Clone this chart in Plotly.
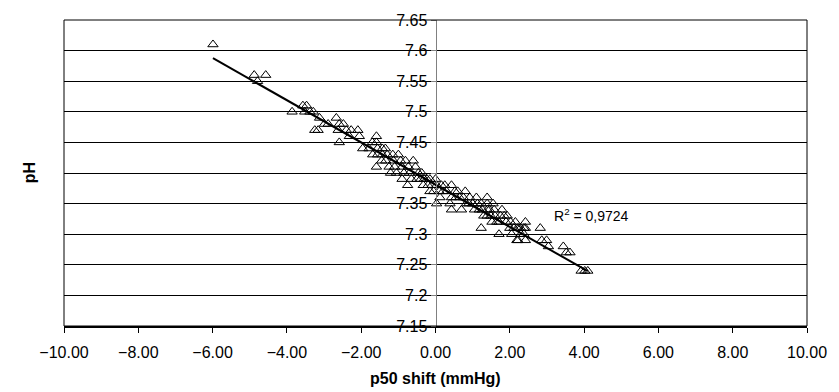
import plotly.graph_objects as go
import numpy as np

# p50 shift (mmHg) and pH values
p50_shift = [
    -5.99, -4.88, -4.57, -4.79,
    -3.86, -3.57, -3.47, -3.52, -3.38, -3.29, -3.25,
    -3.12, -3.16, -2.99, -2.89, -2.67, -2.59, -2.48, -2.62, -2.40, -2.27, -2.32,
    -2.09, -2.05, -2.59, -1.96, -1.79, -1.59, -1.59, -1.56, -1.69, -1.56, -1.43,
    -1.59, -1.43, -1.70,
    -1.34, -1.21, -1.13, -1.00, -0.94, -0.81, -0.73, -0.60, -0.54, -0.46, -0.37,
    -0.33, -0.23, -0.20, -0.10, 0.00, 0.03, 0.03, 0.16, 0.25, 0.30, 0.43, 0.43,
    0.39, 0.43,
    -1.30, -1.25, -1.10, -1.05, -0.90, -0.85, -0.70, -0.65, -0.50, -0.40, -0.30,
    -0.15, -0.05, 0.10, 0.20, 0.12, -0.15, -0.90, -0.75, -1.15, -1.45, -1.35,
    0.52, 0.60, 0.70, 0.92, 0.83, 1.00, 1.13, 1.23, 1.26, 1.39, 1.39, 1.39, 1.23,
    1.49, 1.58, 1.71, 1.71, 1.79, 1.85, 1.93, 2.02, 2.11, 2.24, 2.19, 2.38, 2.38,
    0.55, 0.65, 0.75, 0.80, 0.90, 1.05, 1.10, 1.18, 1.30, 1.45, 1.52, 1.60, 1.65,
    1.75, 1.90, 2.00, 2.05, 2.15, 2.30, 1.55, 1.40,
    2.20, 2.29, 2.42, 2.42, 2.22, 2.42, 2.82, 2.86, 2.99, 3.04, 3.44, 3.52, 3.62,
    3.92, 4.02, 4.10,
]
ph = [
    7.61, 7.56, 7.56, 7.55,
    7.50, 7.51, 7.51, 7.50, 7.50, 7.50, 7.47,
    7.49, 7.47, 7.48, 7.48, 7.49, 7.48, 7.48, 7.47, 7.47, 7.47, 7.46,
    7.47, 7.46, 7.45, 7.44, 7.44, 7.46, 7.45, 7.44, 7.43, 7.43, 7.43,
    7.41, 7.44, 7.45,
    7.42, 7.40, 7.42, 7.43, 7.42, 7.42, 7.41, 7.42, 7.41, 7.40, 7.40,
    7.38, 7.39, 7.38, 7.38, 7.39, 7.38, 7.35, 7.38, 7.38, 7.37, 7.38, 7.36,
    7.35, 7.34,
    7.43, 7.41, 7.41, 7.40, 7.41, 7.40, 7.40, 7.39, 7.39, 7.39, 7.39,
    7.39, 7.37, 7.37, 7.37, 7.36, 7.37, 7.39, 7.38, 7.43, 7.42, 7.44,
    7.37, 7.37, 7.34, 7.36, 7.35, 7.35, 7.35, 7.35, 7.34, 7.36, 7.35, 7.33, 7.31,
    7.33, 7.34, 7.32, 7.30, 7.34, 7.33, 7.33, 7.32, 7.31, 7.31, 7.29, 7.31, 7.30,
    7.36, 7.36, 7.36, 7.37, 7.35, 7.34, 7.36, 7.34, 7.33, 7.34, 7.32, 7.33, 7.32,
    7.33, 7.32, 7.31, 7.30, 7.32, 7.30, 7.35, 7.34,
    7.31, 7.31, 7.32, 7.31, 7.29, 7.29, 7.31, 7.29, 7.29, 7.28, 7.28, 7.27, 7.27,
    7.24, 7.24, 7.24,
]

# linear trend line
trend_slope = -0.0345
trend_intercept = 7.381
r2_text = "R<sup>2</sup> = 0,9724"

x_ticks = [-10, -8, -6, -4, -2, 0, 2, 4, 6, 8, 10]
y_ticks = [7.15, 7.2, 7.25, 7.3, 7.35, 7.4, 7.45, 7.5, 7.55, 7.6, 7.65]
y_tick_text = ["7.15", "7.2", "7.25", "7.3", "7.35", "", "7.45", "7.5", "7.55", "7.6", "7.65"]

font = dict(family="Arial, Liberation Sans, sans-serif", size=16, color="black")
r2_font = dict(family="Arial, Liberation Sans, sans-serif", size=14, color="black")

tx = np.array([min(p50_shift), max(p50_shift)])
ty = trend_intercept + trend_slope * tx

fig = go.Figure()
fig.add_trace(go.Scatter(
    x=tx, y=ty, mode="lines",
    line=dict(color="black", width=2), showlegend=False, hoverinfo="skip",
))
fig.add_trace(go.Scatter(
    x=p50_shift, y=ph, mode="markers",
    marker=dict(symbol="triangle-up-open", size=9, color="black", line=dict(width=1)),
    showlegend=False,
))

fig.update_layout(
    width=839, height=392,
    margin=dict(l=64, r=22, t=15, b=66),
    plot_bgcolor="white", paper_bgcolor="white",
    font=font,
    xaxis=dict(
        range=[-10, 10], tickvals=x_ticks, tickformat=".2f",
        showgrid=False, zeroline=False,
        showline=True, linecolor="black", linewidth=2,
        ticks="outside", ticklen=5, tickcolor="black",
        ticklabelstandoff=6,
        tickfont=font,
    ),
    yaxis=dict(
        range=[7.15, 7.65], tickvals=y_ticks, ticktext=y_tick_text,
        anchor="free", position=0.5,
        showgrid=True, gridcolor="black", gridwidth=1,
        zeroline=False,
        showline=True, linecolor="#808080", linewidth=1,
        ticks="outside", ticklen=5, tickcolor="#808080",
        tickfont=font,
    ),
    shapes=[dict(type="rect", xref="x domain", yref="y domain",
                 x0=0, x1=1, y0=0, y1=1, line=dict(color="black", width=1),
                 layer="above")],
    annotations=[
        dict(text=r2_text, x=3.14, y=7.332, xref="x", yref="y",
             xanchor="left", yanchor="middle", showarrow=False, font=r2_font),
        dict(text="<b>pH</b>", x=-0.061, y=0.5, xref="paper", yref="paper",
             textangle=-90, showarrow=False, font=font),
        dict(text="<b>p50 shift (mmHg)</b>", x=0.5, y=-0.17, xref="paper", yref="paper",
             xanchor="center", yanchor="middle", showarrow=False, font=font),
    ],
)

fig.write_html("out.html")
